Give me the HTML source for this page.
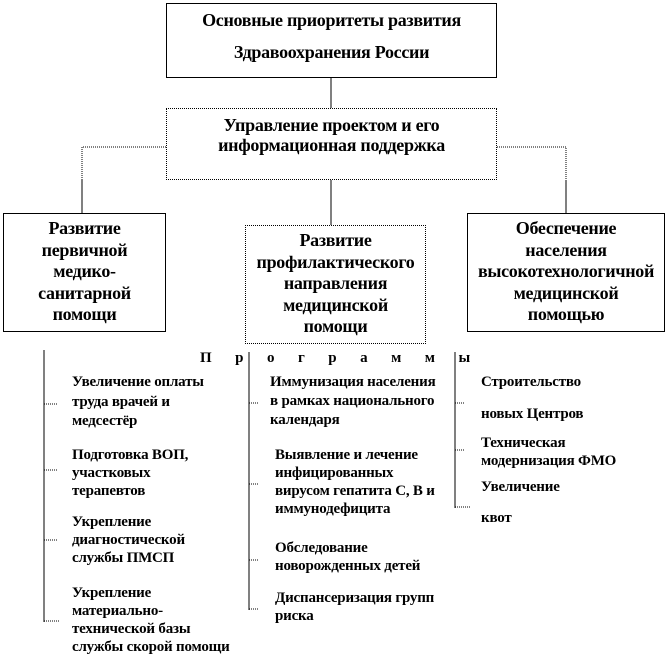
<!DOCTYPE html>
<html><head><meta charset="utf-8"><style>
body{margin:0;width:669px;height:668px;background:#fff;position:relative;overflow:hidden;font-family:"Liberation Serif",serif;font-weight:bold;color:#000}
.a{position:absolute;white-space:nowrap}
.t{position:absolute;font-size:15px;line-height:18px;white-space:nowrap;letter-spacing:-0.2px}
.b{position:absolute;box-sizing:border-box;border:1px solid #000;text-align:center;font-size:15px}
.c{position:absolute;font-size:18px;line-height:20px;text-align:center;white-space:nowrap;letter-spacing:-0.3px}
</style></head><body>
<svg class="a" style="left:0;top:0" width="669" height="668">
<g stroke="#000" fill="none" stroke-width="1">
<line x1="331" y1="78" x2="331" y2="108"/>
<polyline points="166,147 82,147 82,213" stroke-dasharray="1,1"/>
<polyline points="497,147 566,147 566,213" stroke-dasharray="1,1"/>
<line x1="82" y1="180" x2="82" y2="213"/>
<line x1="566" y1="180" x2="566" y2="213"/>
<line x1="331" y1="180" x2="331" y2="225"/>
<line x1="44" y1="350" x2="44" y2="622"/>
<line x1="249" y1="352" x2="249" y2="610"/>
<line x1="455" y1="352" x2="455" y2="508"/>
<g stroke-dasharray="1,1">
<line x1="44" y1="404" x2="58" y2="404"/><line x1="44" y1="470" x2="58" y2="470"/>
<line x1="44" y1="540" x2="58" y2="540"/><line x1="44" y1="621" x2="60" y2="621"/>
<line x1="249" y1="403" x2="258" y2="403"/><line x1="249" y1="484" x2="258" y2="484"/>
<line x1="249" y1="560" x2="258" y2="560"/><line x1="249" y1="609" x2="258" y2="609"/>
<line x1="455" y1="403" x2="464" y2="403"/><line x1="455" y1="450" x2="464" y2="450"/>
<line x1="455" y1="507" x2="470" y2="507"/>
</g></g></svg>
<div class="b" style="left:166px;top:3px;width:331px;height:75px"></div>
<div class="c" style="left:166px;top:10px;width:331px">Основные приоритеты развития</div>
<div class="c" style="left:166px;top:42px;width:331px">Здравоохранения России</div>
<div class="b" style="left:166px;top:108px;width:331px;height:72px;border-style:dotted"></div>
<div class="c" style="left:166px;top:115px;width:331px">Управление проектом и его<br>информационная поддержка</div>
<div class="b" style="left:3px;top:213px;width:163px;height:119px"></div>
<div class="c" style="left:3px;top:218px;width:163px;line-height:21.5px">Развитие<br>первичной<br>медико-<br>санитарной<br>помощи</div>
<div class="b" style="left:245px;top:225px;width:181px;height:119px;border-style:dotted"></div>
<div class="c" style="left:245px;top:230px;width:181px;line-height:21.5px">Развитие<br>профилактического<br>направления<br>медицинской<br>помощи</div>
<div class="b" style="left:467px;top:213px;width:198px;height:119px"></div>
<div class="c" style="left:467px;top:218px;width:198px;line-height:21.5px">Обеспечение<br>населения<br>высокотехнологичной<br>медицинской<br>помощью</div>
<div class="t" style="left:200px;top:349px;width:270px;font-size:15px;display:flex;justify-content:space-between"><span>П</span><span>р</span><span>о</span><span>г</span><span>р</span><span>а</span><span>м</span><span>м</span><span>ы</span></div>
<div class="t" style="left:72px;top:373px;line-height:19.5px">Увеличение оплаты<br>труда врачей и<br>медсестёр</div>
<div class="t" style="left:72px;top:446px">Подготовка ВОП,<br>участковых<br>терапевтов</div>
<div class="t" style="left:72px;top:513px">Укрепление<br>диагностической<br>службы ПМСП</div>
<div class="t" style="left:72px;top:584px">Укрепление<br>материально-<br>технической базы<br>службы скорой помощи</div>
<div class="t" style="left:270px;top:373px;line-height:19px">Иммунизация населения<br>в рамках национального<br>календаря</div>
<div class="t" style="left:275px;top:446px">Выявление и лечение<br>инфицированных<br>вирусом гепатита С, В и<br>иммунодефицита</div>
<div class="t" style="left:275px;top:539px">Обследование<br>новорожденных детей</div>
<div class="t" style="left:275px;top:589px">Диспансеризация групп<br>риска</div>
<div class="t" style="left:481px;top:373px">Строительство</div>
<div class="t" style="left:481px;top:405px">новых Центров</div>
<div class="t" style="left:481px;top:434px">Техническая<br>модернизация ФМО</div>
<div class="t" style="left:481px;top:478px">Увеличение</div>
<div class="t" style="left:481px;top:509px">квот</div>
</body></html>
